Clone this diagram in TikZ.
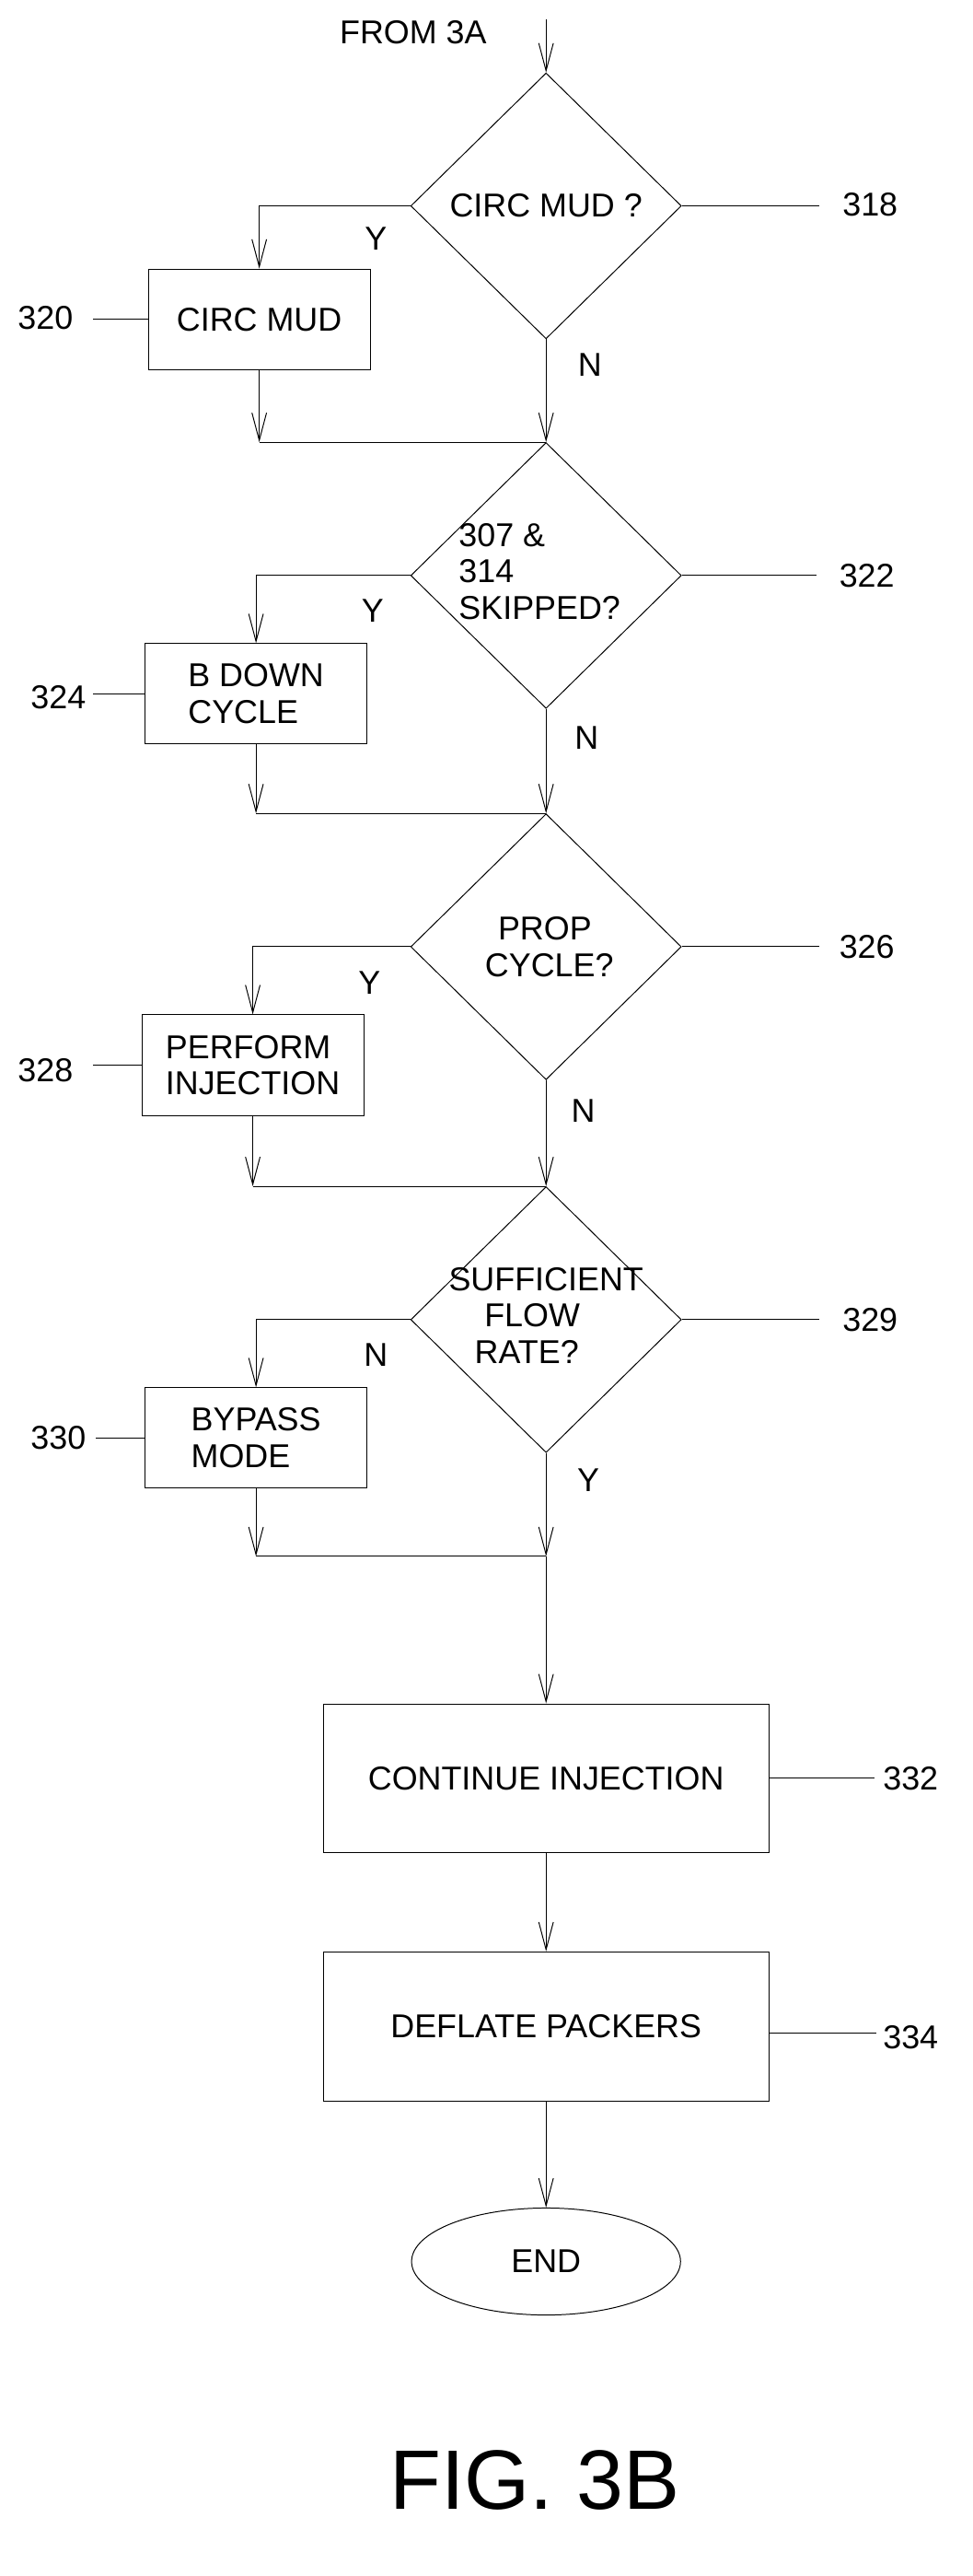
\documentclass[tikz,border=0pt]{standalone}
\usepackage{fontspec}
\setmainfont{Liberation Sans}
\usetikzlibrary{shapes.geometric,arrows.meta}
\newcommand{\zw}[1]{\makebox[0pt]{\begin{tabular}{@{}l@{}}#1\end{tabular}}}
\begin{document}
\begin{tikzpicture}[x=0.05cm,y=-0.05cm,line width=0.8pt,
  every node/.style={font=\fontsize{29}{32}\selectfont},
  dia/.style={draw,diamond,inner sep=0pt,minimum width=8.35cm,minimum height=8.2cm,align=left},
  box/.style={draw,rectangle,minimum width=6.85cm,minimum height=3.1cm,align=left},
  bigbox/.style={draw,rectangle,minimum width=13.75cm,minimum height=4.6cm},
  arr/.style={-{Straight Barb[length=0.85cm,width=0.45cm]}},
  lbl/.style={inner sep=0pt}]
\useasboundingbox (0,0) rectangle (600,1589);
\node[lbl] (from) at (255,20) {FROM 3A};
\coordinate (s) at (337,12);
\node[dia] (d1) at (337,127) {CIRC MUD ?};
\node[dia] (d2) at (337,355) {\zw{\hspace*{-0.4cm}307 \&\\\hspace*{-0.4cm}314\\\hspace*{-0.4cm}SKIPPED?}};
\node[dia] (d3) at (337,584) {\hspace*{0.6cm}PROP\\\hspace*{0.2cm}CYCLE?};
\node[dia] (d4) at (337,814) {\zw{SUFFICIENT\\\hspace*{1.1cm}FLOW\\\hspace*{0.8cm}RATE?}};
\node[box] (b1) at (160,197) {CIRC MUD};
\node[box] (b2) at (158,428) {B DOWN\\CYCLE};
\node[box] (b3) at (156,657) {PERFORM\\INJECTION};
\node[box] (b4) at (158,887) {BYPASS\\MODE};
\node[bigbox] (c) at (337,1097) {CONTINUE INJECTION};
\node[bigbox] (dp) at (337,1250) {DEFLATE PACKERS};
\node[draw,ellipse,minimum width=8.3cm,minimum height=3.3cm] (e) at (337,1395) {END};
\node[lbl,font=\fontsize{74}{80}\selectfont] (fig) at (330,1530) {FIG. 3B};
\node[lbl] (n318) at (537,126) {318};
\node[lbl] (n322) at (535,355) {322};
\node[lbl] (n326) at (535,584) {326};
\node[lbl] (n329) at (537,814) {329};
\node[lbl] (n320) at (28,196) {320};
\node[lbl] (n324) at (36,430) {324};
\node[lbl] (n328) at (28,660) {328};
\node[lbl] (n330) at (36,887) {330};
\node[lbl] (n332) at (562,1097) {332};
\node[lbl] (n334) at (562,1257) {334};
\draw (d1.east) -- ++(85,0);
\draw (d2.east) -- ++(83,0);
\draw (d3.east) -- ++(85,0);
\draw (d4.east) -- ++(85,0);
\draw (b1.west) -- ++(-34,0);
\draw (b2.west) -- ++(-32,0);
\draw (b3.west) -- ++(-30,0);
\draw (b4.west) -- ++(-30,0);
\draw (c.east) -- ++(65,0);
\draw (dp.east) ++(0,4) -- ++(66,0);
\node[lbl] (y1) at (232,147) {Y};
\node[lbl] (n1) at (364,225) {N};
\node[lbl] (y2) at (230,377) {Y};
\node[lbl] (n2) at (362,455) {N};
\node[lbl] (y3) at (228,606) {Y};
\node[lbl] (n3) at (360,685) {N};
\node[lbl] (n4) at (232,836) {N};
\node[lbl] (y4) at (363,913) {Y};
\draw[arr] (s) -- (d1.north);
\draw[arr] (d1.west) -| (b1.north);
\draw[arr] (b1.south) -- (b1.south |- d2.north);
\draw (b1.south |- d2.north) -- (d2.north);
\draw[arr] (d1.south) -- (d2.north);
\draw[arr] (d2.west) -| (b2.north);
\draw[arr] (b2.south) -- (b2.south |- d3.north);
\draw (b2.south |- d3.north) -- (d3.north);
\draw[arr] (d2.south) -- (d3.north);
\draw[arr] (d3.west) -| (b3.north);
\draw[arr] (b3.south) -- (b3.south |- d4.north);
\draw (b3.south |- d4.north) -- (d4.north);
\draw[arr] (d3.south) -- (d4.north);
\draw[arr] (d4.west) -| (b4.north);
\coordinate (j) at (337,960);
\draw[arr] (b4.south) -- (b4.south |- j);
\draw (b4.south |- j) -- (j);
\draw[arr] (d4.south) -- (j);
\draw[arr] (j) -- (c.north);
\draw[arr] (c.south) -- (dp.north);
\draw[arr] (dp.south) -- (e.north);
\end{tikzpicture}
\end{document}
